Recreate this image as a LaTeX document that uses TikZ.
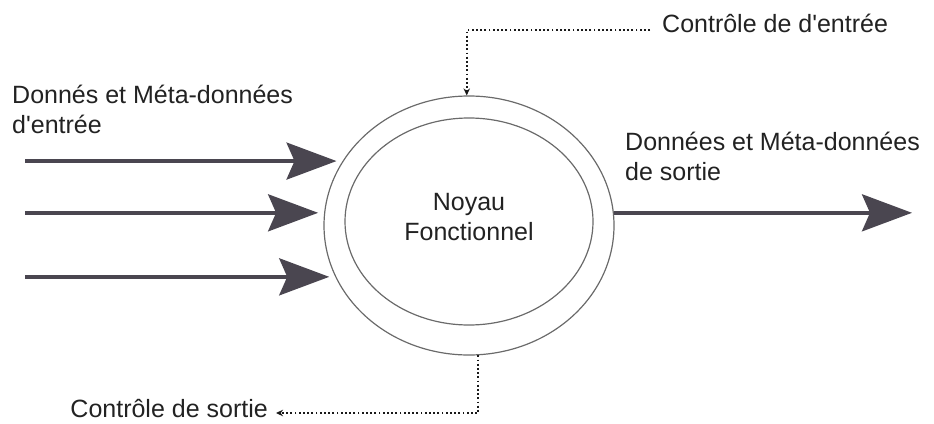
\documentclass[tikz,border=0pt]{standalone}
\usepackage{fontspec}
\setmainfont{Liberation Sans}
\usetikzlibrary{arrows.meta,shapes.geometric}
\definecolor{txtgray}{HTML}{222222}
\definecolor{ringgray}{HTML}{6A6A6A}
\definecolor{flowgray}{HTML}{4A4650}
\newcommand{\apos}{\textquotesingle}
\begin{document}
\begin{tikzpicture}[x=1pt,y=-1pt,
  lbl/.style={font=\fontsize{25}{30}\selectfont, text=txtgray, inner sep=0pt, align=left},
  ring/.style={ellipse, draw=ringgray, line width=1.2pt, inner sep=0pt},
  flow/.style={draw=flowgray, line width=3.5pt,
    -{Stealth[length=50pt,width=37pt,inset=8pt,fill=flowgray]}},
  ctrl/.style={draw=black!90, line width=2.2pt, dash pattern=on 1.8pt off 2.4pt,
    -{Stealth[length=7pt,width=6.5pt]}}
]
\useasboundingbox (0,0) rectangle (934,423);

% functional core: outer and inner rings
\node[ring, minimum width=290pt, minimum height=259pt] (core) at (469,225.5) {};
\node[ring, minimum width=248pt, minimum height=207pt] (inner) at (469,221.5) {};
\node[lbl, align=center, anchor=base] (noyau) at (469,240) {Noyau\\Fonctionnel};

% labels (base anchor sits on the last line)
\node[lbl, anchor=base west] (inlbl) at (12,133) {Donnés et Méta-données\\d\apos entrée};
\node[lbl, anchor=base west] (outlbl) at (625,180) {Données et Méta-données\\de sortie};
\node[lbl, anchor=base west] (cin) at (662,32) {Contrôle de d\apos entrée};
\node[lbl, anchor=base east] (cout) at (268,417) {Contrôle de sortie};

% data inputs
\coordinate (src) at (25,0);
\draw[flow, shorten >=6pt] (core.153.3 -| src) -- (core.153.3);
\draw[flow, shorten >=6pt] (core.175.45 -| src) -- (core.175.45);
\draw[flow, shorten >=6pt] (core.201.6 -| src) -- (core.201.6);

% data output
\coordinate (dst) at (912,0);
\draw[flow] (core.5.35) -- (core.5.35 -| dst);

% control flows
\draw[ctrl, shorten <=12pt] ([yshift=2pt]cin.base west) -| (core.91.8);
\draw[ctrl, shorten >=8pt] (core.-86.5) |- ([yshift=4pt]cout.base east);
\end{tikzpicture}
\end{document}
